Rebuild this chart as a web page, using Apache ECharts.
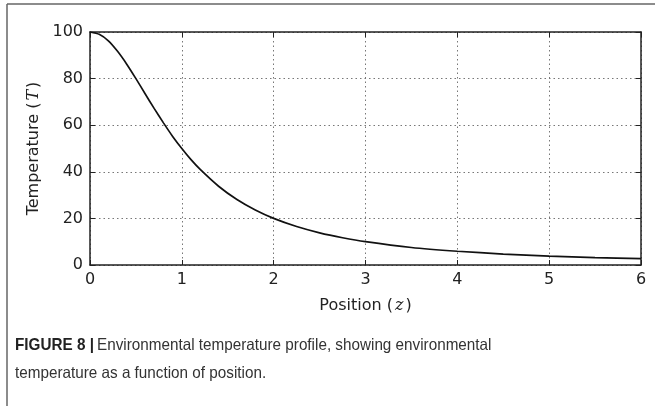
<!DOCTYPE html>
<html>
<head>
<meta charset="utf-8">
<script src="https://cdn.jsdelivr.net/npm/echarts@6/dist/echarts.min.js"></script>
<style>
  html, body { margin: 0; padding: 0; background: #fff; }
  #main { width: 655px; height: 406px; }
</style>
</head>
<body>
<div id="main"></div>
<script>
// position z
var positions = [0, 0.1, 0.2, 0.3, 0.4, 0.5, 0.6, 0.7, 0.8, 0.9, 1.0, 1.1, 1.2, 1.4, 1.6, 1.8, 2.0,
  2.25, 2.5, 2.75, 3.0, 3.5, 4.0, 4.5, 5.0, 5.5, 6.0];
// temperature T at each position
var temperatures = [100, 99, 96.2, 91.7, 86.2, 80, 73.5, 67.1, 61, 55.2, 50, 45.2, 41, 33.8, 28.1, 23.6, 20,
  16.5, 13.8, 11.7, 10, 7.5, 5.9, 4.7, 3.8, 3.2, 2.7];

var points = positions.map(function (z, i) { return [z, temperatures[i]]; });

var myChart = echarts.init(document.getElementById('main'));

var font = 'DejaVu Sans';
var axisLine = { show: true, onZero: false, lineStyle: { color: '#222', width: 1.5 } };
var tickIn = { show: true, inside: true, length: 5, lineStyle: { color: '#222', width: 1 } };
var dotted = { show: true, lineStyle: { color: '#777', type: [1.5, 3], width: 1 } };
var nameRich = {
  n: { fontFamily: font, fontSize: 16, color: '#222' },
  m: { fontFamily: 'DejaVu Serif', fontStyle: 'italic', fontSize: 16, color: '#222', padding: [0, 2, 0, 2] }
};

var option = {
  animation: false,
  backgroundColor: '#fff',
  grid: { left: 90, right: 14, top: 32, bottom: 141 },
  xAxis: [{
    type: 'value', min: 0, max: 6, interval: 1,
    axisLine: axisLine, axisTick: tickIn, splitLine: dotted,
    axisLabel: { color: '#222', fontFamily: font, fontSize: 16, margin: 7 },
    name: '{n|Position (}{m|z}{n|)}', nameLocation: 'middle', nameGap: 33,
    nameTextStyle: { rich: nameRich }
  }, {
    type: 'value', min: 0, max: 6, interval: 1, position: 'top',
    axisLine: axisLine, axisTick: tickIn, splitLine: { show: false },
    axisLabel: { show: false }
  }],
  yAxis: [{
    type: 'value', min: 0, max: 100, interval: 20,
    axisLine: axisLine, axisTick: tickIn, splitLine: dotted,
    axisLabel: { color: '#222', fontFamily: font, fontSize: 16, margin: 7 },
    name: '{n|Temperature (}{m|T}{n|)}', nameLocation: 'middle', nameGap: 47, nameRotate: 90,
    nameTextStyle: { rich: nameRich }
  }, {
    type: 'value', min: 0, max: 100, interval: 20, position: 'right',
    axisLine: axisLine, axisTick: tickIn, splitLine: { show: false },
    axisLabel: { show: false }
  }],
  graphic: [
    // outer figure frame (top and left edges)
    { type: 'line', shape: { x1: 7, y1: 4, x2: 655, y2: 4 }, style: { stroke: '#666', lineWidth: 1.5 } },
    { type: 'line', shape: { x1: 7, y1: 4, x2: 7, y2: 406 }, style: { stroke: '#666', lineWidth: 1.5 } },
    {
      type: 'text', x: 15, y: 331, scaleX: 0.925,
      style: {
        text: '{b|FIGURE 8 |} {t|Environmental temperature profile, showing environmental}\n{t|temperature as a function of position.}',
        rich: {
          b: { fontFamily: 'Liberation Sans', fontWeight: 'bold', fontSize: 16.5, fill: '#222', lineHeight: 28 },
          t: { fontFamily: 'Liberation Sans', fontSize: 16.5, fill: '#333', lineHeight: 28 }
        }
      }
    }
  ],
  series: [{
    type: 'line',
    data: points,
    smooth: 0.2,
    showSymbol: false,
    lineStyle: { color: '#111', width: 1.7 },
    xAxisIndex: 0,
    yAxisIndex: 0
  }]
};
myChart.setOption(option);
</script>
</body>
</html>
